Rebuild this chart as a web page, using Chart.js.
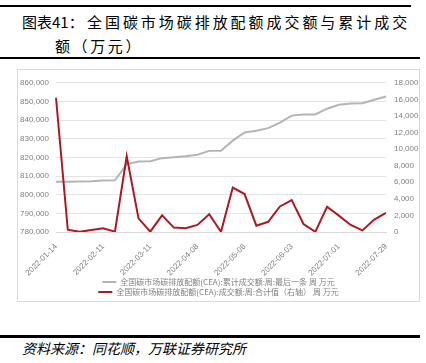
<!DOCTYPE html>
<html>
<head>
<meta charset="utf-8">
<script src="https://cdn.jsdelivr.net/npm/chart.js@4/dist/chart.umd.min.js"></script>
<style>
  html, body { margin:0; padding:0; background:#fff; }
  body { width:426px; height:363px; position:relative; overflow:hidden; font-family:"Noto Sans CJK SC", sans-serif; }
  .rule { position:absolute; left:0; background:#000; }
  .t { position:absolute; font-size:15px; line-height:15px; color:#000; white-space:nowrap; }
  #box { position:absolute; left:17px; top:69px; width:403px; height:233px; border:1px solid #d9d9d9; box-sizing:border-box; }
  #c { position:absolute; left:0; top:0; }
  #src { position:absolute; left:22px; top:341px; font-size:14px; line-height:14px; font-style:italic; color:#000; white-space:nowrap; }
</style>
</head>
<body>
<div class="rule" style="top:5px;width:411px;height:2px"></div>
<div class="t" style="left:22px;top:14px">图表41：</div>
<div class="t" style="left:87px;top:14px;letter-spacing:2.95px">全国碳市场碳排放配额成交额与累计成交</div>
<div class="t" style="left:55px;top:38px;letter-spacing:2.6px">额（万元）</div>
<div class="rule" style="top:57px;width:420px;height:2px"></div>
<div id="box"><canvas id="c" width="401" height="236"></canvas></div>
<div class="rule" style="top:335px;width:420px;height:2.5px"></div>
<div id="src">资料来源：同花顺，万联证券研究所</div>
<script>
const dates = ["2022-01-14","2022-01-21","2022-01-28","2022-02-04","2022-02-11","2022-02-18","2022-02-25",
  "2022-03-04","2022-03-11","2022-03-18","2022-03-25","2022-04-01","2022-04-08","2022-04-15","2022-04-22",
  "2022-04-29","2022-05-06","2022-05-13","2022-05-20","2022-05-27","2022-06-03","2022-06-10","2022-06-17",
  "2022-06-24","2022-07-01","2022-07-08","2022-07-15","2022-07-22","2022-07-29"];
const cumulative = [806900, 806950, 807050, 807200, 807550, 807750, 816300, 817850, 817900, 819600, 820100,
  820600, 821400, 823500, 823600, 829000, 833400, 834300, 835700, 838600, 842400, 843000, 843050, 846100,
  848200, 848900, 849000, 850900, 852650];
const weekly = [16200, 270, 20, 230, 460, 35, 9140, 1650, 35, 2000, 530, 460, 850, 2150, 20, 5360, 4580, 760,
  1230, 3080, 3850, 960, 20, 3040, 1970, 850, 190, 1500, 2310];
const seriesNames = ["全国碳市场碳排放配额(CEA):累计成交额:周:最后一条 周 万元",
  "全国碳市场碳排放配额(CEA):成交额:周:合计值（右轴） 周 万元"];
const leftTicks = { min: 780000, max: 860000, step: 10000 };
const rightTicks = { min: 0, max: 18000, step: 2000 };
const xLabelEvery = 4;

const tickFont = { family: "Liberation Sans, Arial, sans-serif", size: 8 };
const fmt = v => v.toLocaleString("en-US");

new Chart(document.getElementById("c"), {
  type: "line",
  data: {
    labels: dates,
    datasets: [
      { label: seriesNames[0], data: cumulative, yAxisID: "yL", borderColor: "#b4b4b4", backgroundColor: "#b4b4b4",
        borderWidth: 2, pointRadius: 0, tension: 0, order: 1 },
      { label: seriesNames[1], data: weekly, yAxisID: "yR", borderColor: "#ab1a20", backgroundColor: "#ab1a20",
        borderWidth: 2, pointRadius: 0, tension: 0, order: 0 }
    ]
  },
  options: {
    responsive: false,
    animation: false,
    devicePixelRatio: 1,
    layout: { padding: { top: 3, left: 0, right: 0, bottom: 0 } },
    plugins: {
      tooltip: { enabled: false },
      legend: {
        position: "bottom",
        labels: {
          usePointStyle: true, pointStyle: "line", pointStyleWidth: 14,
          boxHeight: 8, padding: 2, color: "#7f7f7f",
          font: { family: "Noto Sans CJK SC, sans-serif", size: 8 },
          sort: (a, b) => a.datasetIndex - b.datasetIndex
        }
      }
    },
    scales: {
      x: {
        offset: false,
        grid: { display: false },
        border: { display: true, color: "#d9d9d9" },
        ticks: {
          autoSkip: false, maxRotation: 45, minRotation: 45, padding: 2, color: "#7f7f7f", font: tickFont,
          callback: function (v, i) { return i % xLabelEvery === 0 ? dates[i] : ""; }
        },
        afterFit: s => { s.height = 44; }
      },
      yL: {
        position: "left", min: leftTicks.min, max: leftTicks.max,
        grid: { color: "#e3e3e3", drawTicks: false },
        border: { display: false },
        ticks: { stepSize: leftTicks.step, padding: 7, color: "#7f7f7f", font: tickFont, callback: v => fmt(v) },
        afterFit: s => { s.width = 38; }
      },
      yR: {
        position: "right", min: rightTicks.min, max: rightTicks.max,
        grid: { display: false, drawTicks: false },
        border: { display: false },
        ticks: { stepSize: rightTicks.step, padding: 8, color: "#7f7f7f", font: tickFont, callback: v => fmt(v) },
        afterFit: s => { s.width = 33; }
      }
    }
  }
});
</script>
</body>
</html>
